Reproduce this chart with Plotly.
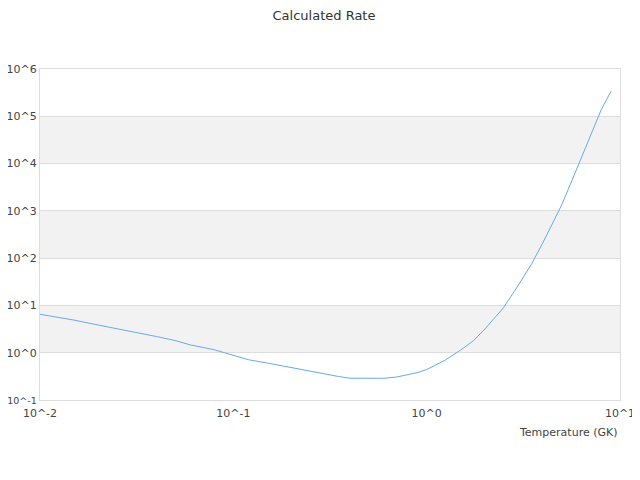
import numpy as np
import plotly.graph_objects as go

# temperature grid (GK) and calculated rate
temperature = [
    0.01, 0.012, 0.015, 0.02, 0.025, 0.03, 0.04, 0.05, 0.06, 0.07, 0.08, 0.09,
    0.1, 0.12, 0.15, 0.2, 0.25, 0.3, 0.35, 0.4, 0.45, 0.5, 0.6, 0.7, 0.8, 0.9,
    1.0, 1.25, 1.5, 1.75, 2.0, 2.5, 3.0, 3.5, 4.0, 5.0, 6.0, 7.0, 8.0, 9.0,
]
rate = [
    6.5, 5.8, 4.9, 3.85, 3.25, 2.81, 2.2, 1.81, 1.46, 1.29, 1.15, 1.0,
    0.88, 0.71, 0.605, 0.48, 0.405, 0.353, 0.314, 0.289, 0.288, 0.288, 0.288,
    0.306, 0.338, 0.382, 0.441, 0.70, 1.14, 1.81, 3.16, 9.0, 28.0, 77.0,
    216.0, 1350.0, 8050.0, 38600.0, 138000.0, 342000.0,
]

x_decades = [-2, -1, 0, 1]
y_decades = [-1, 0, 1, 2, 3, 4, 5, 6]
band_starts = [0, 2, 4]  # shaded decades

font = "DejaVu Sans"
grey = "#dddddd"

# bottom y label is a bit wider than the left margin, shrink it slightly
y_ticktext = [f"10^{d}" for d in y_decades]
y_ticktext[0] = f"<span style='font-size:9.5px'>{y_ticktext[0]}</span>"

fig = go.Figure()
fig.add_trace(
    go.Scatter(
        x=temperature,
        y=rate,
        mode="lines",
        line=dict(color="#66aaee", width=1),
        showlegend=False,
    )
)

for d in band_starts:
    fig.add_shape(
        type="rect", xref="paper", yref="y",
        x0=0, x1=1, y0=10.0 ** d, y1=10.0 ** (d + 1),
        fillcolor="#f2f2f2", line_width=0, layer="below",
    )

fig.add_annotation(
    text="Temperature (GK)", xref="paper", yref="paper",
    x=1, y=-0.097, xanchor="right", yanchor="middle", showarrow=False,
    font=dict(family=font, size=11, color="#444444"),
)

# page has an 8px body margin, so the figure is a bit smaller than the window
fig.update_layout(
    width=632,
    height=472,
    margin=dict(l=32, r=20, t=61, b=80),
    paper_bgcolor="white",
    plot_bgcolor="white",
    font=dict(family=font, size=11, color="#444444"),
    title=dict(
        text="Calculated Rate", x=0.5, xanchor="center",
        yref="container", y=0.985, yanchor="middle",
        font=dict(family=font, size=13, color="#333333"),
    ),
    xaxis=dict(
        type="log",
        range=[x_decades[0], x_decades[-1]],
        tickvals=[10.0 ** d for d in x_decades],
        ticktext=[f"10^{d}" for d in x_decades],
        showgrid=False,
        zeroline=False,
        showline=True,
        linecolor=grey,
        linewidth=1,
        mirror=True,
        ticks="",
        ticklabelstandoff=3,
        ticklabeloverflow="allow",
        automargin=False,
    ),
    yaxis=dict(
        type="log",
        range=[y_decades[0], y_decades[-1]],
        tickvals=[10.0 ** d for d in y_decades],
        ticktext=y_ticktext,
        showgrid=True,
        gridcolor=grey,
        gridwidth=1,
        zeroline=False,
        showline=True,
        linecolor=grey,
        linewidth=1,
        mirror=True,
        ticks="",
        ticklabelstandoff=0,
        ticklabeloverflow="allow",
        automargin=False,
    ),
)

fig.write_html("out.html")
